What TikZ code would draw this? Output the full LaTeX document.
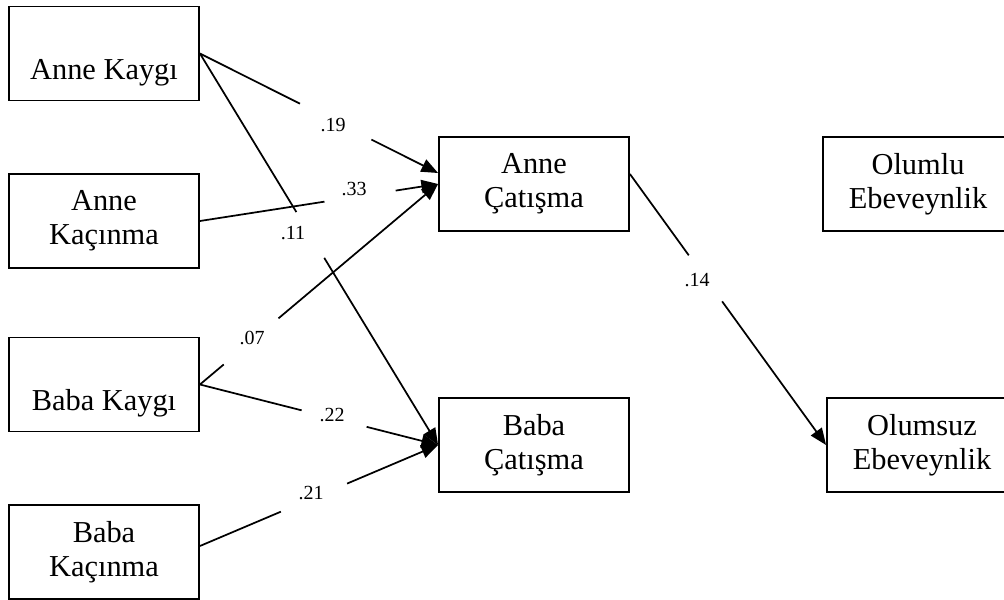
\documentclass[tikz,border=0pt]{standalone}
\usepackage{fontspec}
\setmainfont{Liberation Serif}
\usetikzlibrary{arrows.meta,calc}

\tikzset{
  kutu/.style={draw, line width=1.4pt, minimum width=142.5pt, minimum height=70.5pt,
    inner sep=0pt, align=center, font=\fontsize{22.8}{25.5}\selectfont},
  yol/.style={line width=1.3pt},
  ok/.style={yol, -{Triangle[length=12.5pt,width=10pt]}},
  katsayi/.style={inner sep=0.75pt, font=\fontsize{15}{17}\selectfont},
}

\begin{document}
\begin{tikzpicture}[x=0.75pt,y=0.75pt,yscale=-1,xscale=1]
\useasboundingbox (0,0) rectangle (1004,600);
\clip (0,0) rectangle (1004,600);

% Kutular
\node[kutu] (akaygi) at (104,53.5) {\strut\\Anne Kaygı};
\node[kutu] (akacin) at (104,221) {Anne\\Kaçınma};
\node[kutu] (bkaygi) at (104,384.5) {\strut\\Baba Kaygı};
\node[kutu] (bkacin) at (104,552) {Baba\\Kaçınma};
\node[kutu] (acat) at (534,184) {Anne\\Çatışma};
\node[kutu] (bcat) at (534,445) {Baba\\Çatışma};
\node[kutu] (olumlu) at (918,184) {Olumlu\\Ebeveynlik};
\node[kutu] (olumsuz) at (922,445) {Olumsuz\\Ebeveynlik};

% kaydirilmis uclar
\coordinate (acatust) at ($(acat.west)+(0,-11)$);
\coordinate (acatsag) at ($(acat.east)+(0,-10)$);
\coordinate (bkacinsag) at ($(bkacin.east)+(0,-6)$);

% .19
\draw[yol] (akaygi.east) -- ($(akaygi.east)!0.42!(acatust)$);
\draw[ok] ($(akaygi.east)!0.72!(acatust)$) -- (acatust);
\node[katsayi] (k19) at (333,125) {.19};
% .11
\draw[yol] (akaygi.east) -- ($(akaygi.east)!0.405!(bcat.west)$);
\draw[ok] ($(akaygi.east)!0.522!(bcat.west)$) -- (bcat.west);
\node[katsayi] (k11) at (293,233) {.11};
% .33
\draw[yol] (akacin.east) -- ($(akacin.east)!0.523!(acat.west)$);
\draw[ok] ($(akacin.east)!0.822!(acat.west)$) -- (acat.west);
\node[katsayi] (k33) at (354,189) {.33};
% .07
\draw[yol] (bkaygi.east) -- ($(bkaygi.east)!0.10!(acat.west)$);
\draw[ok] ($(bkaygi.east)!0.33!(acat.west)$) -- (acat.west);
\node[katsayi] (k07) at (252,338) {.07};
% .22
\draw[yol] (bkaygi.east) -- ($(bkaygi.east)!0.427!(bcat.west)$);
\draw[ok] ($(bkaygi.east)!0.70!(bcat.west)$) -- (bcat.west);
\node[katsayi] (k22) at (332,415) {.22};
% .21
\draw[yol] (bkacinsag) -- ($(bkacinsag)!0.34!(bcat.west)$);
\draw[ok] ($(bkacinsag)!0.618!(bcat.west)$) -- (bcat.west);
\node[katsayi] (k21) at (311,493) {.21};
% .14
\draw[yol] (acatsag) -- ($(acatsag)!0.30!(olumsuz.west)$);
\draw[ok] ($(acatsag)!0.47!(olumsuz.west)$) -- (olumsuz.west);
\node[katsayi] (k14) at (697,280) {.14};

\end{tikzpicture}
\end{document}
